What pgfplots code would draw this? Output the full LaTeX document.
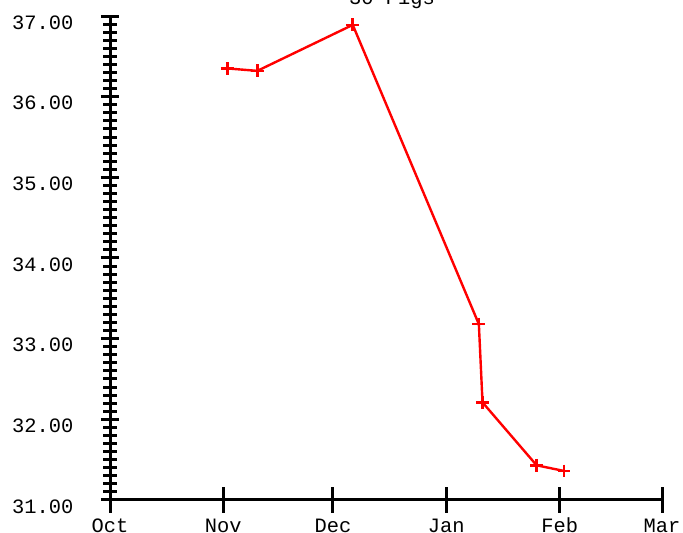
\documentclass[border=0pt]{standalone}
\usepackage{fontspec}
\setmainfont{Liberation Mono}
\usepackage{pgfplots}
\pgfplotsset{compat=1.18}

\begin{document}
\fontsize{10.2}{12}\selectfont
\begin{tikzpicture}
  % fix the page to the reference frame (1px = 0.5pt)
  \path[use as bounding box] (-55pt,-16.5pt) rectangle (286.5pt,250pt);
  \begin{axis}[
    at={(0,0)}, anchor=south west,
    scale only axis, width=276pt, height=242pt,
    axis lines*=left,
    axis line style={line width=1.5pt},
    xmin=0, xmax=151, ymin=31, ymax=37,
    xtick={0,31,61,92,123,151},
    xticklabels={Oct,Nov,Dec,Jan,Feb,Mar},
    ytick={31,32,33,34,35,36,37},
    yticklabels={31.00,32.00,33.00,34.00,35.00,36.00,37.00},
    minor ytick={31.1,31.2,...,36.95},
    tick align=center,
    tick style={line width=1.5pt, black},
    xtick style={/pgfplots/major tick length=13pt},
    ytick style={/pgfplots/major tick length=9pt},
    minor tick length=6.5pt,
    xticklabel style={font=\fontsize{10.2}{12}\selectfont, anchor=base, yshift=-14pt},
    yticklabel style={font=\fontsize{10.2}{12}\selectfont, anchor=north east, inner sep=0pt, xshift=-16pt, yshift=0.5pt},
    clip=false,
  ]
    \addplot[color=red, line width=1.2pt, mark=+, mark size=3.2pt, mark options={line width=1.3pt}] coordinates {
      (32.1,36.35) (40.3,36.32) (66.4,36.89) (100.9,33.18) (101.9,32.21) (116.7,31.43) (124.2,31.36)
    };
  \end{axis}
  % title, mostly above the page edge as in the reference
  \node[anchor=base, inner sep=0pt] at (141pt,247.5pt) {30 Pigs};
\end{tikzpicture}
\end{document}
